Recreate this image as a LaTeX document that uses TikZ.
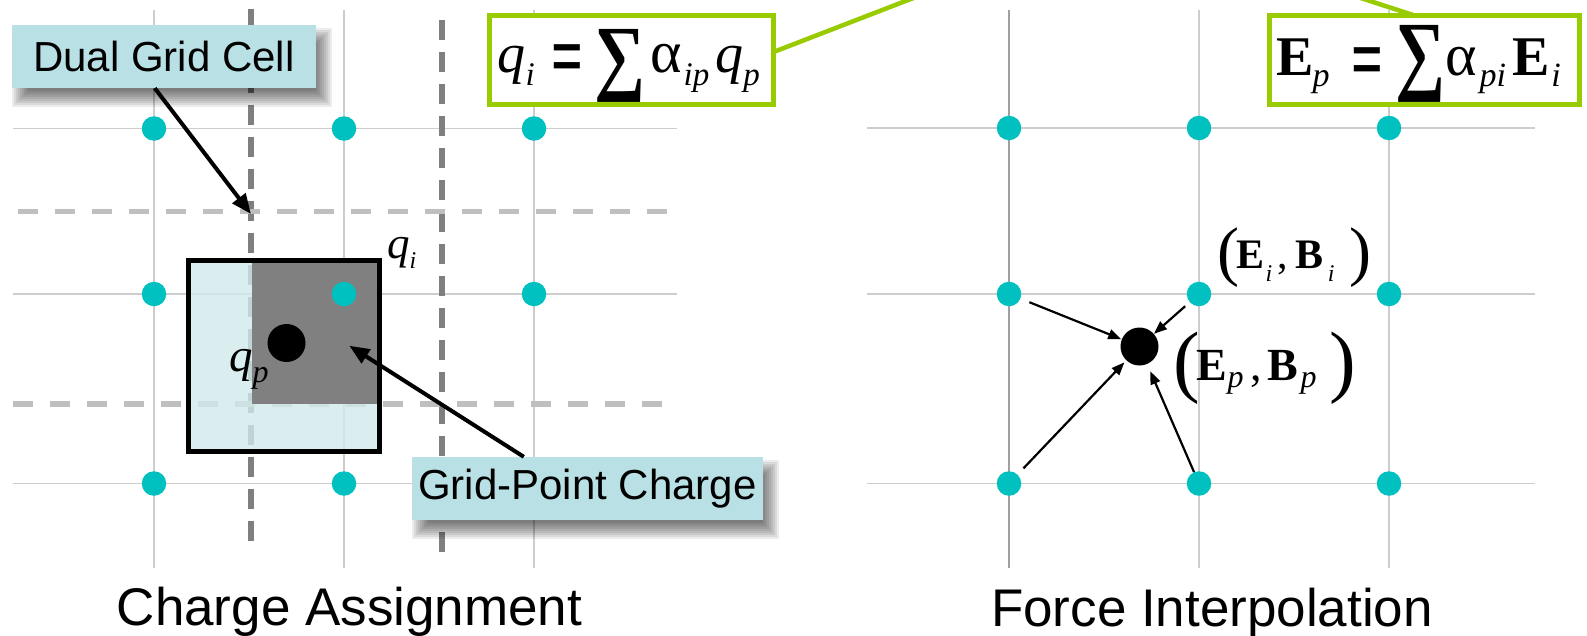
\documentclass[tikz,border=0pt]{standalone}
\usepackage{fontspec}
\usepackage{graphicx}
\setmainfont{Liberation Sans}
\newfontfamily\tms{Liberation Serif}
\usetikzlibrary{arrows.meta,calc}

\definecolor{dotc}{RGB}{0,192,192}
\definecolor{calloutc}{RGB}{185,224,228}
\definecolor{cellc}{RGB}{209,234,236}
\definecolor{sqc}{RGB}{128,128,128}
\definecolor{vdashc}{RGB}{127,127,127}
\definecolor{hdashc}{RGB}{191,191,191}
\definecolor{gridc}{RGB}{205,205,205}
\definecolor{gridd}{RGB}{160,160,160}
\definecolor{greenc}{RGB}{153,204,0}

\newcommand\softshadow[4]{%
  \foreach \s in {-8,-6,...,8}{%
    \fill[black,opacity=0.075] (#1+8+\s,#2+11+\s) rectangle (#3+8-\s,#4+11-\s);}}
\newcommand\bigsum[3]{\raisebox{-#3}{\resizebox{#1}{#2}{\raisebox{\depth}{\tms\bfseries ∑}}}}
\newcommand\alf{{\fontsize{60}{60}\selectfont α}}

\begin{document}
\begin{tikzpicture}[x=1pt,y=-1pt,
  gridline/.style={draw=gridc,line width=1.5pt},
  vdash/.style={draw=vdashc,line width=5.5pt,dash pattern=on 20pt off 12pt},
  hdash/.style={draw=hdashc,line width=5.5pt,dash pattern=on 20pt off 17pt},
  gdot/.style={circle,fill=dotc,inner sep=0pt,minimum size=24.5pt},
  partdot/.style={circle,fill=black,inner sep=0pt,minimum size=38pt},
  calloutbox/.style={fill=calloutc,inner sep=0pt,font=\fontsize{42}{50}\selectfont},
  formbox/.style={draw=greenc,line width=5pt,fill=white,inner sep=0pt},
  greenline/.style={draw=greenc,line width=4.5pt},
  bigarr/.style={-{Triangle[length=20pt,width=16pt]},line width=4pt},
  smallarr/.style={-{Triangle[length=13pt,width=10pt]},line width=2.2pt},
  titletext/.style={font=\fontsize{53}{60}\selectfont,inner sep=0pt,anchor=base},
  mathlbl/.style={font=\tms,inner sep=0pt,anchor=base west},
]
\useasboundingbox (0,0) rectangle (1587,635);
\fill[white] (0,0) rectangle (1587,635);

% ---- grids
\foreach \x in {154,344,534} \draw[gridline] (\x,9.5) -- (\x,568);
\foreach \y in {128.5,294,483.5} \draw[gridline] (13,\y) -- (677,\y);
\draw[gridline,draw=gridd] (1009,9.5) -- (1009,568);
\foreach \x in {1199,1389} \draw[gridline] (\x,9.5) -- (\x,568);
\foreach \y in {128,294,483.5} \draw[gridline] (867,\y) -- (1535,\y);

% ---- dual grid (dashed)
\draw[vdash] (251,9.3) -- (251,552);
\draw[vdash] (442,20) -- (442,563);
\draw[hdash] (18,211.5) -- (676,211.5);
\draw[hdash] (13,404) -- (668,404);

% ---- cell
\fill[cellc,opacity=0.8] (188.5,260) rectangle (379,451);
\fill[sqc] (252,260) rectangle (379,404);
\draw[line width=5pt] (188.5,260) rectangle (379,451);

% ---- grid points
\foreach \c/\x in {a/154,b/344,c/534}{
  \foreach \r/\y in {1/128.5,2/294,3/483.5}{
    \node[gdot] (L\c\r) at (\x,\y) {};}}
\foreach \c/\x in {a/1009,b/1199,c/1389}{
  \foreach \r/\y in {1/128,2/294,3/483.5}{
    \node[gdot] (R\c\r) at (\x,\y) {};}}

% ---- particles
\node[partdot] (pL) at (286.5,343) {};
\node[partdot] (pR) at (1139.5,346.5) {};

% ---- left labels
\node[mathlbl] (lqi) at (387,258) {\fontsize{45}{45}\selectfont\textit{q}\raisebox{-10pt}{\fontsize{24}{24}\selectfont\textit{i}}};
\node[mathlbl] (lqp) at (229,371.7) {\fontsize{47}{47}\selectfont\textit{q}\raisebox{-11pt}{\fontsize{32}{32}\selectfont\textit{p}}};

% ---- right labels
\node[mathlbl] (lEi) at (1217,268) {\fontsize{42}{42}\selectfont\raisebox{-5pt}{\fontsize{66}{66}\selectfont(}\kern-2.5pt\textbf{E}\kern1pt\raisebox{-13.7pt}{\fontsize{24}{24}\selectfont\textit{i}}\kern5pt,\kern8pt\textbf{B}\kern4pt\raisebox{-13.7pt}{\fontsize{24}{24}\selectfont\textit{i}}\kern15pt\raisebox{-5pt}{\fontsize{66}{66}\selectfont)}};
\node[mathlbl] (lEp) at (1173,380) {\fontsize{46}{46}\selectfont\raisebox{-7pt}{\fontsize{80}{80}\selectfont(}\kern-3pt\textbf{E}\raisebox{-7.4pt}{\fontsize{32}{32}\selectfont\textit{p}}\kern7pt,\kern5pt\textbf{B}\kern3pt\raisebox{-7.4pt}{\fontsize{32}{32}\selectfont\textit{p}}\kern13pt\raisebox{-7pt}{\fontsize{80}{80}\selectfont)}};

% ---- interpolation arrows
\draw[smallarr,shorten <=9.5pt,shorten >=0.5pt] (Ra2) -- (pR);
\draw[smallarr,shorten <=6pt] (Rb2) -- (pR);
\draw[smallarr,shorten <=8.5pt,shorten >=2.7pt] (Ra3) -- (pR);
\draw[smallarr,shorten >=7.8pt] (Rb3) -- (pR);

% ---- green callout lines
\coordinate (ctip) at (1118,-81);
\begin{scope}
\clip (0,0) rectangle (1587,635);
\draw[greenline] (773.5,52) -- (ctip);
\draw[greenline] (1413,15) -- (ctip);
\end{scope}

% ---- formula boxes
\node[formbox,minimum width=284pt,minimum height=89.5pt] (f1) at (631.5,59.75) {};
\node[formbox,minimum width=310.5pt,minimum height=89.5pt] (f2) at (1424.25,59.75) {};
\node[mathlbl] (f1t) at (497,72) {\fontsize{56}{56}\selectfont\textit{q}\kern0.5pt\raisebox{-13pt}{\fontsize{33}{33}\selectfont\textit{i}}\kern16.5pt\raisebox{-14.5pt}{\scalebox{1}[1.6]{\textbf{=}}}\kern11pt\bigsum{51pt}{73pt}{30pt}\kern5pt\alf\kern2pt\raisebox{-13pt}{\fontsize{33}{33}\selectfont\textit{ip}}\kern6pt\textit{q}\raisebox{-13pt}{\fontsize{33}{33}\selectfont\textit{p}}};
\node[mathlbl] (f2t) at (1276,75) {\fontsize{56}{56}\selectfont\textbf{E}\kern-1pt\raisebox{-11pt}{\fontsize{34}{34}\selectfont\textit{p}}\kern21.6pt\raisebox{-14.5pt}{\scalebox{1}[1.6]{\textbf{=}}}\kern12pt\bigsum{50pt}{77pt}{27pt}\kern0pt\alf\kern3pt\raisebox{-11pt}{\fontsize{34}{34}\selectfont\textit{pi}}\kern7pt\textbf{E}\kern1pt\raisebox{-11pt}{\fontsize{34}{34}\selectfont\textit{i}}};

% ---- callout boxes
\softshadow{12}{25}{316}{88}
\node[calloutbox,minimum width=304pt,minimum height=63pt] (dual) at (164,56.5) {Dual Grid Cell};
\softshadow{412}{457}{763}{520}
\node[calloutbox,minimum width=351pt,minimum height=63pt] (gpc) at (587.5,488.5) {Grid-Point Charge};

\coordinate (dualtip) at (251,214);
\coordinate (gpctip) at (349.3,345.7);
\draw[bigarr] ([xshift=143pt]dual.south west) -- (dualtip);
\draw[bigarr] ([xshift=112pt]gpc.north west) -- (gpctip);

% ---- titles
\node[titletext] (t1) at (349.5,625) {Charge Assignment};
\node[titletext] (t2) at (1212,626) {Force Interpolation};
\end{tikzpicture}
\end{document}
